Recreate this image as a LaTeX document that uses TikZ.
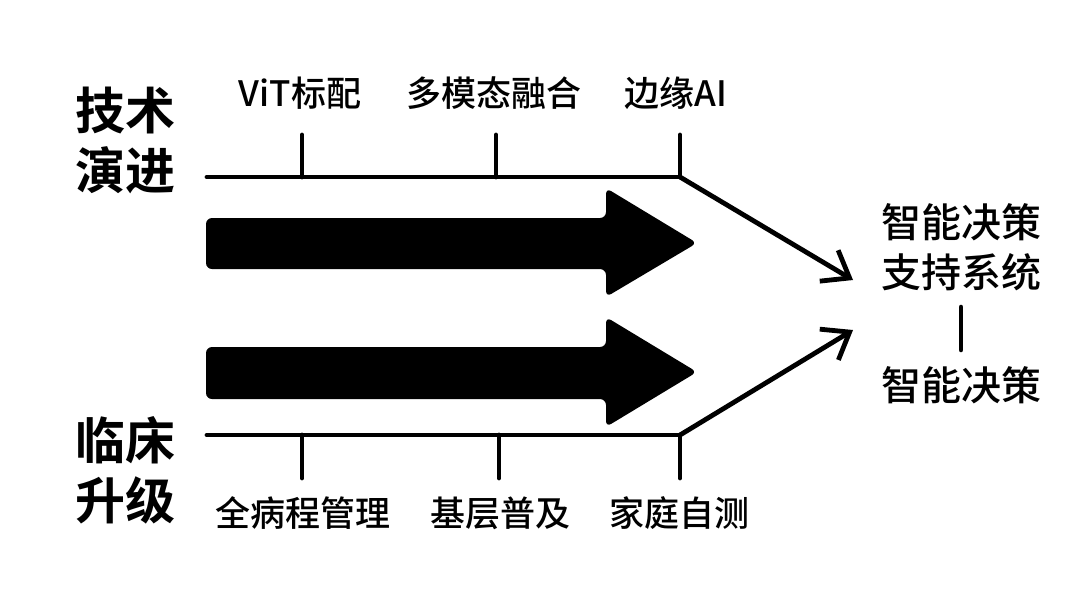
\documentclass[tikz,border=0pt]{standalone}
\usepackage{fontspec}
\setmainfont{Noto Sans CJK SC}
\newfontfamily\cjkb{Noto Sans CJK SC Bold}
\newfontfamily\cjkm{Noto Sans CJK SC Medium}
\usetikzlibrary{arrows.meta}
\begin{document}
\begin{tikzpicture}[x=0.5pt,y=-0.5pt,
  line/.style={line width=2.4pt, line cap=round, line join=round},
  lbl/.style={font=\cjkm\fontsize{17.5pt}{20pt}\selectfont, inner sep=0pt},
  side/.style={font=\cjkb\fontsize{25pt}{30pt}\selectfont, align=center, inner sep=0pt},
  goal/.style={font=\cjkm\fontsize{20pt}{25pt}\selectfont, align=center, inner sep=0pt},
  tipped/.style={-{Straight Barb[length=12pt,width=18pt]}},
  bigarrow/.style={fill=black, rounded corners=3pt}]
\useasboundingbox[fill=white] (0,0) rectangle (1080,607);
% side labels
\node[side] (tech) at (125,140) {技术\\演进};
\node[side] (clin) at (125,470) {临床\\升级};
% goal
\node[goal] (goal1) at (961,247) {智能决策\\支持系统};
\node[goal] (goal2) at (961,385) {智能决策};
\draw[line, shorten <=8pt, shorten >=8pt] (goal1.south) -- (goal2.north);
% timelines
\coordinate (tS) at (207,177); \coordinate (tK) at (680,177); \coordinate (tE) at (853,280);
\coordinate (bS) at (207,435); \coordinate (bK) at (680,435); \coordinate (bE) at (853,330);
\draw[line] (tS) -- (tK);
\draw[line, tipped] (tK) -- (tE);
\draw[line] (bS) -- (bK);
\draw[line, tipped] (bK) -- (bE);
% top milestones
\node[lbl] (m1) at (300,93) {ViT标配};
\node[lbl] (m2) at (494,93) {多模态融合};
\node[lbl] (m3) at (676,93) {边缘AI};
\coordinate (k1) at (302,177); \coordinate (k2) at (496,177);
\draw[line] (302,135) -- (k1);
\draw[line] (496,135) -- (k2);
\draw[line] (680,135) -- (tK);
% bottom milestones
\node[lbl] (n1) at (303,513) {全病程管理};
\node[lbl] (n2) at (500,513) {基层普及};
\node[lbl] (n3) at (679,513) {家庭自测};
\coordinate (j1) at (302,435); \coordinate (j2) at (499,435);
\draw[line] (j1) -- (302,478);
\draw[line] (j2) -- (499,478);
\draw[line] (bK) -- (680,478);
% big arrows
\fill[bigarrow] (206,218) -- (606,218) -- (606,188) -- (697,243) -- (606,297) -- (606,269) -- (206,269) -- cycle;
\fill[bigarrow] (206,347) -- (606,347) -- (606,317) -- (697,372) -- (606,427) -- (606,399) -- (206,399) -- cycle;
\end{tikzpicture}
\end{document}
